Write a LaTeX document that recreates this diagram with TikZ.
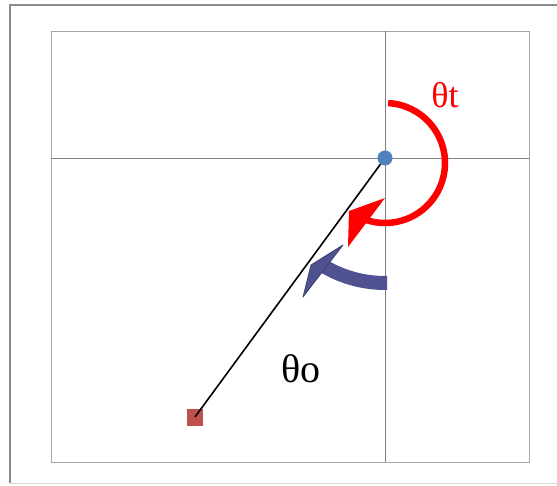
\documentclass[tikz,border=0pt]{standalone}
\usepackage{fontspec}
\setmainfont{Liberation Serif}
\usepackage{xcolor}
\usepackage{tikz}
\definecolor{dotblue}{RGB}{79,129,189}
\definecolor{sqred}{RGB}{192,80,77}
\definecolor{slate}{RGB}{79,81,144}

\begin{document}
\begin{tikzpicture}[x=1pt, y=1pt,
  frame/.style={draw=black!45, line width=1.6pt},
  grid/.style={draw=black!50, line width=0.9pt},
  pivot/.style={circle, fill=dotblue, minimum size=15pt, inner sep=0pt},
  target/.style={rectangle, fill=sqred, minimum width=16pt, minimum height=17pt, inner sep=0pt},
  turn/.style={red, line width=6.5pt},
  sweep/.style={slate, line width=14pt},
  lbl/.style={inner sep=0pt}
]
\useasboundingbox (0,0) rectangle (557,485);

% outer frame
\draw[frame] (10,2) -- (10,480) -- (560,480);
\draw[black!15, line width=1pt] (10,2) -- (560,2);

% axes
\draw[grid, draw=black!35] (51,23) rectangle (529,454);
\draw[grid] (51,327) -- (529,327);
\draw[grid] (385,23) -- (385,454);

% points
\node[pivot] (pivot) at (385,327) {};
\node[target] (target) at (195,68) {};
\draw[line width=1.6pt] (pivot) -- (target.center);

% turning arcs
\coordinate (c) at (385,322);
\draw[turn] (c) ++(87:60) arc[start angle=87, end angle=-109, radius=60];
\fill[red] (385,287) -- (349,274) -- (348,238) -- cycle;
\draw[sweep] (c) ++(-89:120) arc[start angle=-89, end angle=-121, radius=120];
\fill[slate, draw=slate!80!black, line width=0.8pt, line join=round]
  (343,240) -- (311,220) -- (303,188) -- cycle;

% labels
\node[lbl, red, font=\fontsize{36}{40}\selectfont] (theta-t) at (445,390) {θt};
\node[lbl, font=\fontsize{40}{44}\selectfont] (theta-o) at (301,116) {θo};
\end{tikzpicture}
\end{document}
